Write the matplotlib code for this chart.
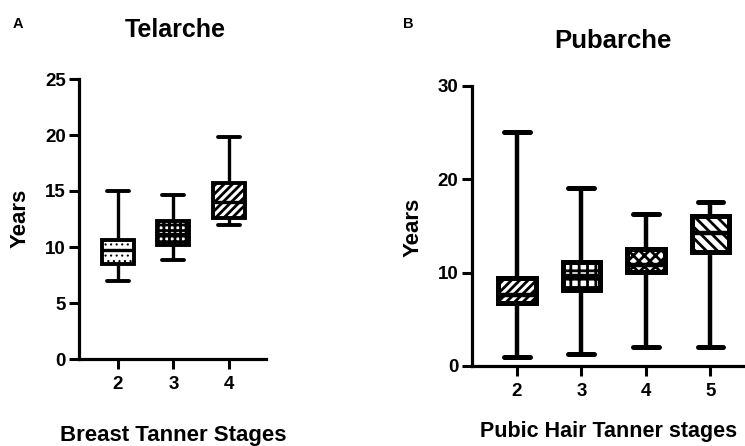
import matplotlib
matplotlib.use('Agg')
import matplotlib.pyplot as plt

# ---- data ----
stages_a = ['2', '3', '4']
a_whislo = [7.0, 8.8, 12.0]
a_q1 = [8.5, 10.2, 12.6]
a_med = [9.7, 11.2, 14.0]
a_q3 = [10.6, 12.3, 15.7]
a_whishi = [15.0, 14.6, 19.8]
a_hatches = ['...', '+++', '////']

stages_b = ['2', '3', '4', '5']
b_whislo = [1.0, 1.3, 2.0, 2.0]
b_q1 = [6.7, 8.1, 10.1, 12.2]
b_med = [7.6, 9.6, 10.8, 14.2]
b_q3 = [9.4, 11.1, 12.5, 16.1]
b_whishi = [25.0, 19.0, 16.3, 17.6]
b_hatches = ['////', '++', 'xxx', '\\\\\\']

plt.rcParams['font.family'] = ['Liberation Sans', 'DejaVu Sans']
plt.rcParams['font.weight'] = 'bold'
plt.rcParams['hatch.linewidth'] = 2.0
plt.rcParams['hatch.color'] = 'black'

W, H = 745, 446
fig = plt.figure(figsize=(W / 100, H / 100), dpi=100)


def px(x0, y0, x1, y1):
    return [x0 / W, 1 - y1 / H, (x1 - x0) / W, (y1 - y0) / H]


def make_stats(labels, lo, q1, med, q3, hi):
    return [dict(label=l, whislo=a, q1=b, med=c, q3=d, whishi=e, fliers=[])
            for l, a, b, c, d, e in zip(labels, lo, q1, med, q3, hi)]


def draw(ax, stats, hatches, lw, boxlw):
    pos = list(range(2, 2 + len(stats)))
    bp = ax.bxp(stats, positions=pos, widths=0.58, patch_artist=True,
                showfliers=False, capwidths=0.4,
                boxprops=dict(facecolor='white', edgecolor='black', linewidth=boxlw),
                whiskerprops=dict(color='black', linewidth=lw, solid_capstyle='butt'),
                capprops=dict(color='black', linewidth=lw + 0.4, solid_capstyle='round'),
                medianprops=dict(color='black', linewidth=lw, solid_capstyle='butt'))
    for patch, h in zip(bp['boxes'], hatches):
        patch.set_hatch(h)
        if h.startswith('.') and hasattr(patch, 'set_hatch_linewidth'):
            patch.set_hatch_linewidth(0.8)
    for s in ['top', 'right']:
        ax.spines[s].set_visible(False)
    for s in ['left', 'bottom']:
        ax.spines[s].set_linewidth(2.3)
    ax.tick_params(direction='out', length=7.5, width=2.2, labelsize=13.5, pad=2)
    ax.tick_params(axis='x', pad=5)
    ax.set_facecolor('none')


# Panel A
axA = fig.add_axes(px(79, 79, 266, 359))
draw(axA, make_stats(stages_a, a_whislo, a_q1, a_med, a_q3, a_whishi), a_hatches, 2.4, 2.8)
axA.set_xlim(1.3, 4.67)
axA.set_ylim(0, 25)
axA.set_yticks([0, 5, 10, 15, 20, 25])

# Panel B
axB = fig.add_axes(px(471.7, 85.7, 755.6, 366))
draw(axB, make_stats(stages_b, b_whislo, b_q1, b_med, b_q3, b_whishi), b_hatches, 3.2, 3.6)
axB.set_xlim(1.3, 5.7)
axB.set_ylim(0, 30)
axB.set_yticks([0, 10, 20, 30])

# Texts
fig.text(13 / W, 1 - 28 / H, 'A', fontsize=10.5, fontweight='bold', va='baseline', ha='left')
fig.text(403 / W, 1 - 28 / H, 'B', fontsize=10.5, fontweight='bold', va='baseline', ha='left')
fig.text(175 / W, 1 - 37 / H, 'Telarche', fontsize=18, fontweight='bold', ha='center', va='baseline')
fig.text(613 / W, 1 - 48 / H, 'Pubarche', fontsize=18.5, fontweight='bold', ha='center', va='baseline')
fig.text(173.5 / W, 1 - 441 / H, 'Breast Tanner Stages', fontsize=16, fontweight='bold',
         ha='center', va='baseline')
fig.text(480 / W, 1 - 437 / H, 'Pubic Hair Tanner stages', fontsize=15.5, fontweight='bold',
         ha='left', va='baseline')
fig.text(20 / W, 1 - 218 / H, 'Years', fontsize=16, fontweight='bold', rotation=90,
         ha='center', va='center')
fig.text(413 / W, 1 - 227 / H, 'Years', fontsize=16, fontweight='bold', rotation=90,
         ha='center', va='center')

fig.savefig('out.png', dpi=100)
